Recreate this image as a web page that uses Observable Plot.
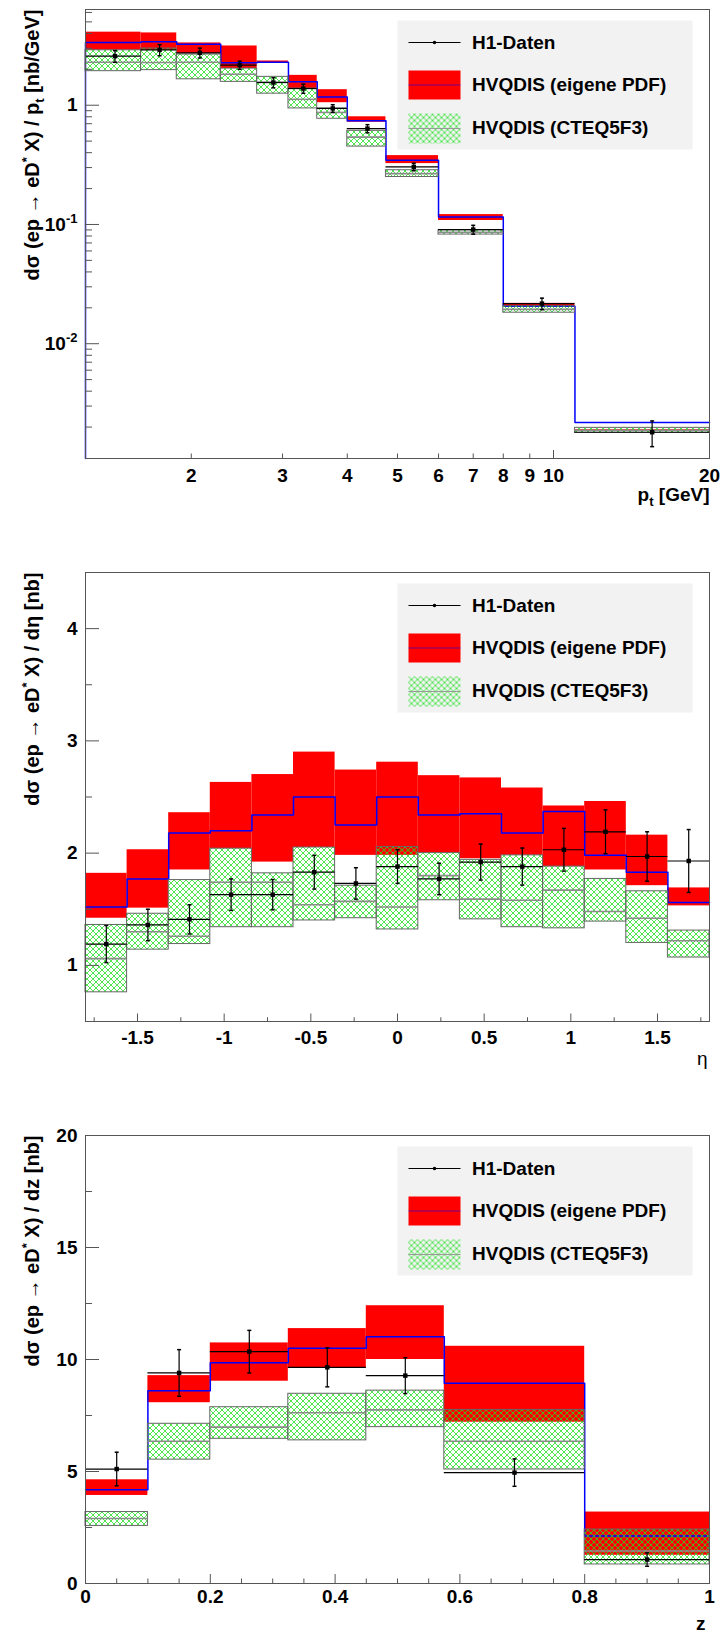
<!DOCTYPE html>
<html><head><meta charset="utf-8">
<script src="https://cdn.jsdelivr.net/npm/d3@7"></script>
<script src="https://cdn.jsdelivr.net/npm/@observablehq/plot@0.6"></script>
<style>
body{margin:0;background:#fff;}
#chart svg{display:block;}
</style></head><body><div id="chart"></div>
<script>
// ---------- pt panel ----------
const ptEdges   = [1.25, 1.6, 1.875, 2.28, 2.68, 3.08, 3.5, 4.0, 4.75, 6.0, 8.0, 11.0, 20.0];
const ptRedHi   = [4.10, 4.04, 3.33, 3.14, 2.35, 1.78, 1.35, 0.80, 0.378, 0.121, 0.0218, 0.00190];
const ptRedLo   = [2.89, 2.89, 2.71, 2.03, 2.24, 1.38, 1.05, 0.72, 0.324, 0.108, 0.0205, 0.00184];
const ptBlue    = [3.36, 3.40, 3.25, 2.27, 2.29, 1.57, 1.17, 0.74, 0.345, 0.1157, 0.0206, 0.00218];
const ptGreenHi = [2.89, 2.99, 2.66, 2.03, 1.73, 1.38, 0.94, 0.61, 0.285, 0.0894, 0.0206, 0.00197];
const ptGreenLo = [1.93, 1.97, 1.65, 1.57, 1.25, 0.94, 0.77, 0.45, 0.250, 0.0823, 0.0182, 0.00179];
const ptGray    = [2.29, 2.28, 2.29, 1.82, 1.56, 1.12, 0.87, 0.54, 0.267, 0.086, 0.0194, 0.00188];
const ptData    = [2.58, 2.91, 2.75, 2.17, 1.55, 1.38, 0.94, 0.637, 0.304, 0.0906, 0.0217, 0.00181];
const ptErr     = [0.29, 0.31, 0.26, 0.17, 0.15, 0.12, 0.07, 0.05, 0.022, 0.0077, 0.0024, 0.00044];
const ptXLabels = [2, 3, 4, 5, 6, 7, 8, 9, 10, 20];
const ptXMajor  = [10];
const ptXMinor  = [2, 3, 4, 5, 6, 7, 8, 9, 20];
const ptYMajor  = [0.01, 0.1, 1];
const ptYMinor  = [0.002, 0.003, 0.004, 0.005, 0.006, 0.007, 0.008, 0.009,
                   0.02, 0.03, 0.04, 0.05, 0.06, 0.07, 0.08, 0.09,
                   0.2, 0.3, 0.4, 0.5, 0.6, 0.7, 0.8, 0.9, 2, 3, 4, 5, 6];

// ---------- eta panel ----------
const etaEdges   = [-1.8, -1.56, -1.32, -1.08, -0.84, -0.6, -0.36, -0.12, 0.12, 0.36, 0.6, 0.84, 1.08, 1.32, 1.56, 1.8];
const etaRedHi   = [1.82, 2.03, 2.36, 2.63, 2.70, 2.90, 2.74, 2.81, 2.69, 2.67, 2.58, 2.42, 2.46, 2.16, 1.69];
const etaRedLo   = [1.42, 1.51, 1.85, 2.04, 1.92, 2.05, 1.98, 1.98, 2.00, 1.95, 1.98, 1.88, 1.85, 1.71, 1.53];
const etaBlue    = [1.52, 1.77, 2.18, 2.20, 2.34, 2.50, 2.25, 2.50, 2.34, 2.35, 2.18, 2.37, 1.98, 1.83, 1.56];
const etaGreenHi = [1.36, 1.46, 1.76, 2.04, 1.82, 2.05, 1.71, 2.055, 2.00, 1.94, 1.98, 1.88, 1.77, 1.66, 1.31];
const etaGreenLo = [0.76, 1.14, 1.19, 1.34, 1.34, 1.40, 1.42, 1.32, 1.58, 1.41, 1.34, 1.33, 1.39, 1.20, 1.07];
const etaGray    = [1.06, 1.30, 1.26, 1.74, 1.74, 1.54, 1.57, 1.52, 1.80, 1.59, 1.58, 1.67, 1.48, 1.42, 1.22];
const etaData    = [1.19, 1.36, 1.41, 1.63, 1.63, 1.83, 1.73, 1.88, 1.77, 1.92, 1.88, 2.03, 2.19, 1.97, 1.93];
const etaErr     = [0.165, 0.14, 0.13, 0.14, 0.135, 0.15, 0.14, 0.15, 0.14, 0.16, 0.165, 0.19, 0.195, 0.22, 0.28];
const etaXMajor  = [-1.5, -1, -0.5, 0, 0.5, 1, 1.5];
const etaXMinor  = [-1.75, -1.25, -0.75, -0.25, 0.25, 0.75, 1.25, 1.75];
const etaYMajor  = [1, 2, 3, 4];
const etaYMinor  = [1.5, 2.5, 3.5];

// ---------- z panel ----------
const zEdges   = [0, 0.1, 0.2, 0.325, 0.45, 0.575, 0.8, 1.0];
const zRedHi   = [4.63, 9.28, 10.74, 11.38, 12.40, 10.59, 3.19];
const zRedLo   = [3.93, 8.07, 9.03, 9.60, 10.00, 7.20, 1.26];
const zBlue    = [4.19, 8.61, 9.85, 10.50, 11.02, 8.94, 2.12];
const zGreenHi = [3.19, 7.13, 7.87, 8.47, 8.61, 7.75, 2.41];
const zGreenLo = [2.57, 5.53, 6.46, 6.39, 6.98, 5.09, 0.85];
const zGray    = [2.90, 6.35, 6.98, 7.62, 7.75, 6.35, 1.45];
const zData    = [5.11, 9.40, 10.35, 9.65, 9.28, 4.95, 1.07];
const zErr     = [0.75, 1.04, 0.95, 0.87, 0.80, 0.61, 0.30];
const zXMajor  = [0, 0.2, 0.4, 0.6, 0.8, 1];
const zXMinor  = [0.05, 0.1, 0.15, 0.25, 0.3, 0.35, 0.45, 0.5, 0.55, 0.65, 0.7, 0.75, 0.85, 0.9, 0.95];
const zYMajor  = [0, 5, 10, 15, 20];
const zYMinor  = [2.5, 7.5, 12.5, 17.5];

const legendLabels = ["H1-Daten", "HVQDIS (eigene PDF)", "HVQDIS (CTEQ5F3)"];

// ---------- helpers ----------
const FONT = "'Liberation Sans', Arial, Helvetica, sans-serif";
const W = 721, ML = 85, MR = 12, FW = W - ML - MR;
const hline = {draw(ctx, size) { const r = Math.sqrt(size / Math.PI); ctx.moveTo(-r, 0); ctx.lineTo(r, 0); }};

function makeBins(edges, redHi, redLo, blue, gHi, gLo, gray, data, err) {
  return edges.slice(0, -1).map((e, i) => ({
    x1: e, x2: edges[i + 1], xc: (e + edges[i + 1]) / 2,
    redHi: redHi[i], redLo: redLo[i], blue: blue[i], gHi: gHi[i], gLo: gLo[i],
    gray: gray[i], data: data[i], err: err[i]
  }));
}
function bluePoints(edges, blue) {
  return edges.map((e, i) => ({x: e, y: blue[Math.min(i, blue.length - 1)]}));
}

function richText(svg) {
  d3.select(svg).selectAll("text").each(function () {
    const s = this.textContent;
    if (!/[\^_]\{/.test(s)) return;
    const parts = s.split(/(\^\{[^}]*\}|_\{[^}]*\})/).filter(p => p !== "");
    const el = d3.select(this);
    el.text("");
    let shift = 0;
    for (const p of parts) {
      const t = el.append("tspan");
      if (p.startsWith("^{")) {
        t.attr("font-size", "13px").attr("dy", -8 - shift).text(p.slice(2, -1)); shift = -8;
      } else if (p.startsWith("_{")) {
        t.attr("font-size", "13px").attr("dy", 5 - shift).text(p.slice(2, -1)); shift = 5;
      } else {
        if (shift !== 0) t.attr("dy", -shift);
        shift = 0;
        t.text(p);
      }
    }
  });
}

function panel(o) {
  const fh = o.height - o.mt - o.mb;
  const bins = o.bins;
  const hatch = `url(#${o.hatchId})`;
  const tk = {stroke: "#555", strokeWidth: 1};
  const marks = [
    Plot.rect(bins, {x1: "x1", x2: "x2", y1: "redLo", y2: "redHi", fill: "#ff0000"}),
    Plot.line(o.bluePts, {x: "x", y: "y", curve: "step-after", stroke: "#0000ff", strokeWidth: 1.5}),
    Plot.rect(bins, {x1: "x1", x2: "x2", y1: "gLo", y2: "gHi", fill: hatch, stroke: "#666", strokeWidth: 1}),
    Plot.ruleY(bins, {x1: "x1", x2: "x2", y: "gray", stroke: "#8c8c8c", strokeWidth: 1.6}),
    Plot.ruleY(bins, {x1: "x1", x2: "x2", y: "data", stroke: "#000", strokeWidth: 1.2}),
    Plot.ruleX(bins, {x: "xc", y1: d => d.data - d.err, y2: d => d.data + d.err, stroke: "#000", strokeWidth: 1.2}),
    Plot.dot(bins, {x: "xc", y: d => d.data + d.err, symbol: hline, r: 2, stroke: "#000", fill: "none"}),
    Plot.dot(bins, {x: "xc", y: d => d.data - d.err, symbol: hline, r: 2, stroke: "#000", fill: "none"}),
    Plot.dot(bins, {x: "xc", y: "data", symbol: "square", r: 2.5, fill: "#000", stroke: null}),
    Plot.frame({stroke: "#555"}),
    // ticks (pointing inwards)
    Plot.tickY(o.yMajor, {y: d => d, insetRight: FW - 14, ...tk}),
    Plot.tickY(o.yMinor, {y: d => d, insetRight: FW - 7, ...tk}),
    Plot.tickX(o.xMajor, {x: d => d, insetTop: fh - o.xMajLen, ...tk}),
    Plot.tickX(o.xMinor, {x: d => d, insetTop: fh - o.xMinLen, ...tk}),
    // tick labels
    Plot.axisY({ticks: o.yLabels, tickSize: 0, tickPadding: 8, tickFormat: o.yFmt, label: null}),
    Plot.axisX({ticks: o.xLabels, tickSize: 0, tickPadding: o.xPad, tickFormat: o.xFmt, label: null}),
    // axis titles
    Plot.text([o.yTitle], {text: d => d, frameAnchor: "top-left", rotate: -90, dx: -53, dy: 0,
      textAnchor: "end", lineAnchor: "middle", fontSize: 20}),
    Plot.text([o.xTitle], {text: d => d, frameAnchor: "bottom-right", dx: o.xTitleDx, dy: o.xTitleDy,
      textAnchor: "end", lineAnchor: "middle", fontWeight: o.xTitleWeight || "bold"}),
    // legend
    Plot.frame({fill: "#f2f2f2", insetLeft: 312, insetRight: 17, insetTop: 11, insetBottom: fh - 140}),
    Plot.dot([0], {frameAnchor: "top-left", dx: 349, dy: 33, symbol: hline, r: 26, stroke: "#000", strokeWidth: 1.2, fill: "none"}),
    Plot.dot([0], {frameAnchor: "top-left", dx: 349, dy: 33, r: 1.8, fill: "#000", stroke: null}),
    Plot.frame({fill: "#ff0000", insetLeft: 323, insetRight: FW - 375, insetTop: 61, insetBottom: fh - 90}),
    Plot.dot([0], {frameAnchor: "top-left", dx: 349, dy: 75.5, symbol: hline, r: 26, stroke: "#0000ff", strokeOpacity: 0.55, strokeWidth: 1.2, fill: "none"}),
    Plot.frame({fill: hatch, insetLeft: 323, insetRight: FW - 375, insetTop: 104, insetBottom: fh - 134}),
    Plot.dot([0], {frameAnchor: "top-left", dx: 349, dy: 119, symbol: hline, r: 26, stroke: "#999", strokeWidth: 1.2, fill: "none"})
  ];
  [33, 75.5, 118.5].forEach((dy, i) => marks.push(
    Plot.text([legendLabels[i]], {text: d => d, frameAnchor: "top-left", dx: 386.5, dy, textAnchor: "start", lineAnchor: "middle"})
  ));
  const svg = Plot.plot({
    width: W, height: o.height,
    marginTop: o.mt, marginBottom: o.mb, marginLeft: ML, marginRight: MR,
    x: {type: o.xType, domain: o.xDomain},
    y: {type: o.yType, domain: o.yDomain},
    style: {fontFamily: FONT, fontSize: "19px", fontWeight: "bold", color: "#000", background: "#fff", overflow: "visible"},
    marks
  });
  const defs = d3.select(svg).insert("defs", ":first-child");
  const pat = defs.append("pattern").attr("id", o.hatchId).attr("patternUnits", "userSpaceOnUse")
    .attr("width", 6).attr("height", 6);
  pat.append("path").attr("d", "M0,0L6,6M6,0L0,6").attr("stroke", "#22e022").attr("stroke-width", 0.8).attr("fill", "none");
  richText(svg);
  return svg;
}

const chart = document.getElementById("chart");
const ptYDomain = [0.00109, 6.35];
chart.appendChild(panel({
  height: 520, mt: 9, mb: 62, hatchId: "hatch1",
  xType: "log", xDomain: [1.25, 20], yType: "log", yDomain: ptYDomain,
  bins: makeBins(ptEdges, ptRedHi, ptRedLo, ptBlue, ptGreenHi, ptGreenLo, ptGray, ptData, ptErr),
  bluePts: [{x: ptEdges[0], y: ptYDomain[0]}, ...bluePoints(ptEdges, ptBlue)],
  yMajor: ptYMajor, yMinor: ptYMinor, yLabels: ptYMajor,
  yFmt: v => v === 1 ? "1" : "10^{" + Math.round(Math.log10(v)) + "}",
  xMajor: ptXMajor, xMinor: ptXMinor, xMajLen: 8, xMinLen: 4.5, xLabels: ptXLabels, xFmt: v => String(v), xPad: 10,
  yTitle: "dσ (ep → eD^{*} X) / p_{t} [nb/GeV]", xTitle: "p_{t} [GeV]", xTitleDx: 0, xTitleDy: 36
}));
chart.appendChild(panel({
  height: 560, mt: 52, mb: 59, hatchId: "hatch2",
  xType: "linear", xDomain: [-1.8, 1.8], yType: "linear", yDomain: [0.5, 4.5],
  bins: makeBins(etaEdges, etaRedHi, etaRedLo, etaBlue, etaGreenHi, etaGreenLo, etaGray, etaData, etaErr),
  bluePts: bluePoints(etaEdges, etaBlue),
  yMajor: etaYMajor, yMinor: etaYMinor, yLabels: etaYMajor, yFmt: v => String(v),
  xMajor: etaXMajor, xMinor: etaXMinor, xMajLen: 7.5, xMinLen: 3.7, xLabels: etaXMajor, xFmt: v => String(v), xPad: 9,
  yTitle: "dσ (ep → eD^{*} X) / dη [nb]", xTitle: "η", xTitleDx: -2, xTitleDy: 37, xTitleWeight: "normal"
}));
chart.appendChild(panel({
  height: 552, mt: 55, mb: 49, hatchId: "hatch3",
  xType: "linear", xDomain: [0, 1], yType: "linear", yDomain: [0, 20],
  bins: makeBins(zEdges, zRedHi, zRedLo, zBlue, zGreenHi, zGreenLo, zGray, zData, zErr),
  bluePts: bluePoints(zEdges, zBlue),
  yMajor: zYMajor, yMinor: zYMinor, yLabels: zYMajor, yFmt: v => String(v),
  xMajor: zXMajor, xMinor: zXMinor, xMajLen: 9, xMinLen: 4.5, xLabels: zXMajor, xFmt: v => String(v), xPad: 6,
  yTitle: "dσ (ep → eD^{*} X) / dz [nb]", xTitle: "z", xTitleDx: -4, xTitleDy: 40
}));
</script></body></html>
